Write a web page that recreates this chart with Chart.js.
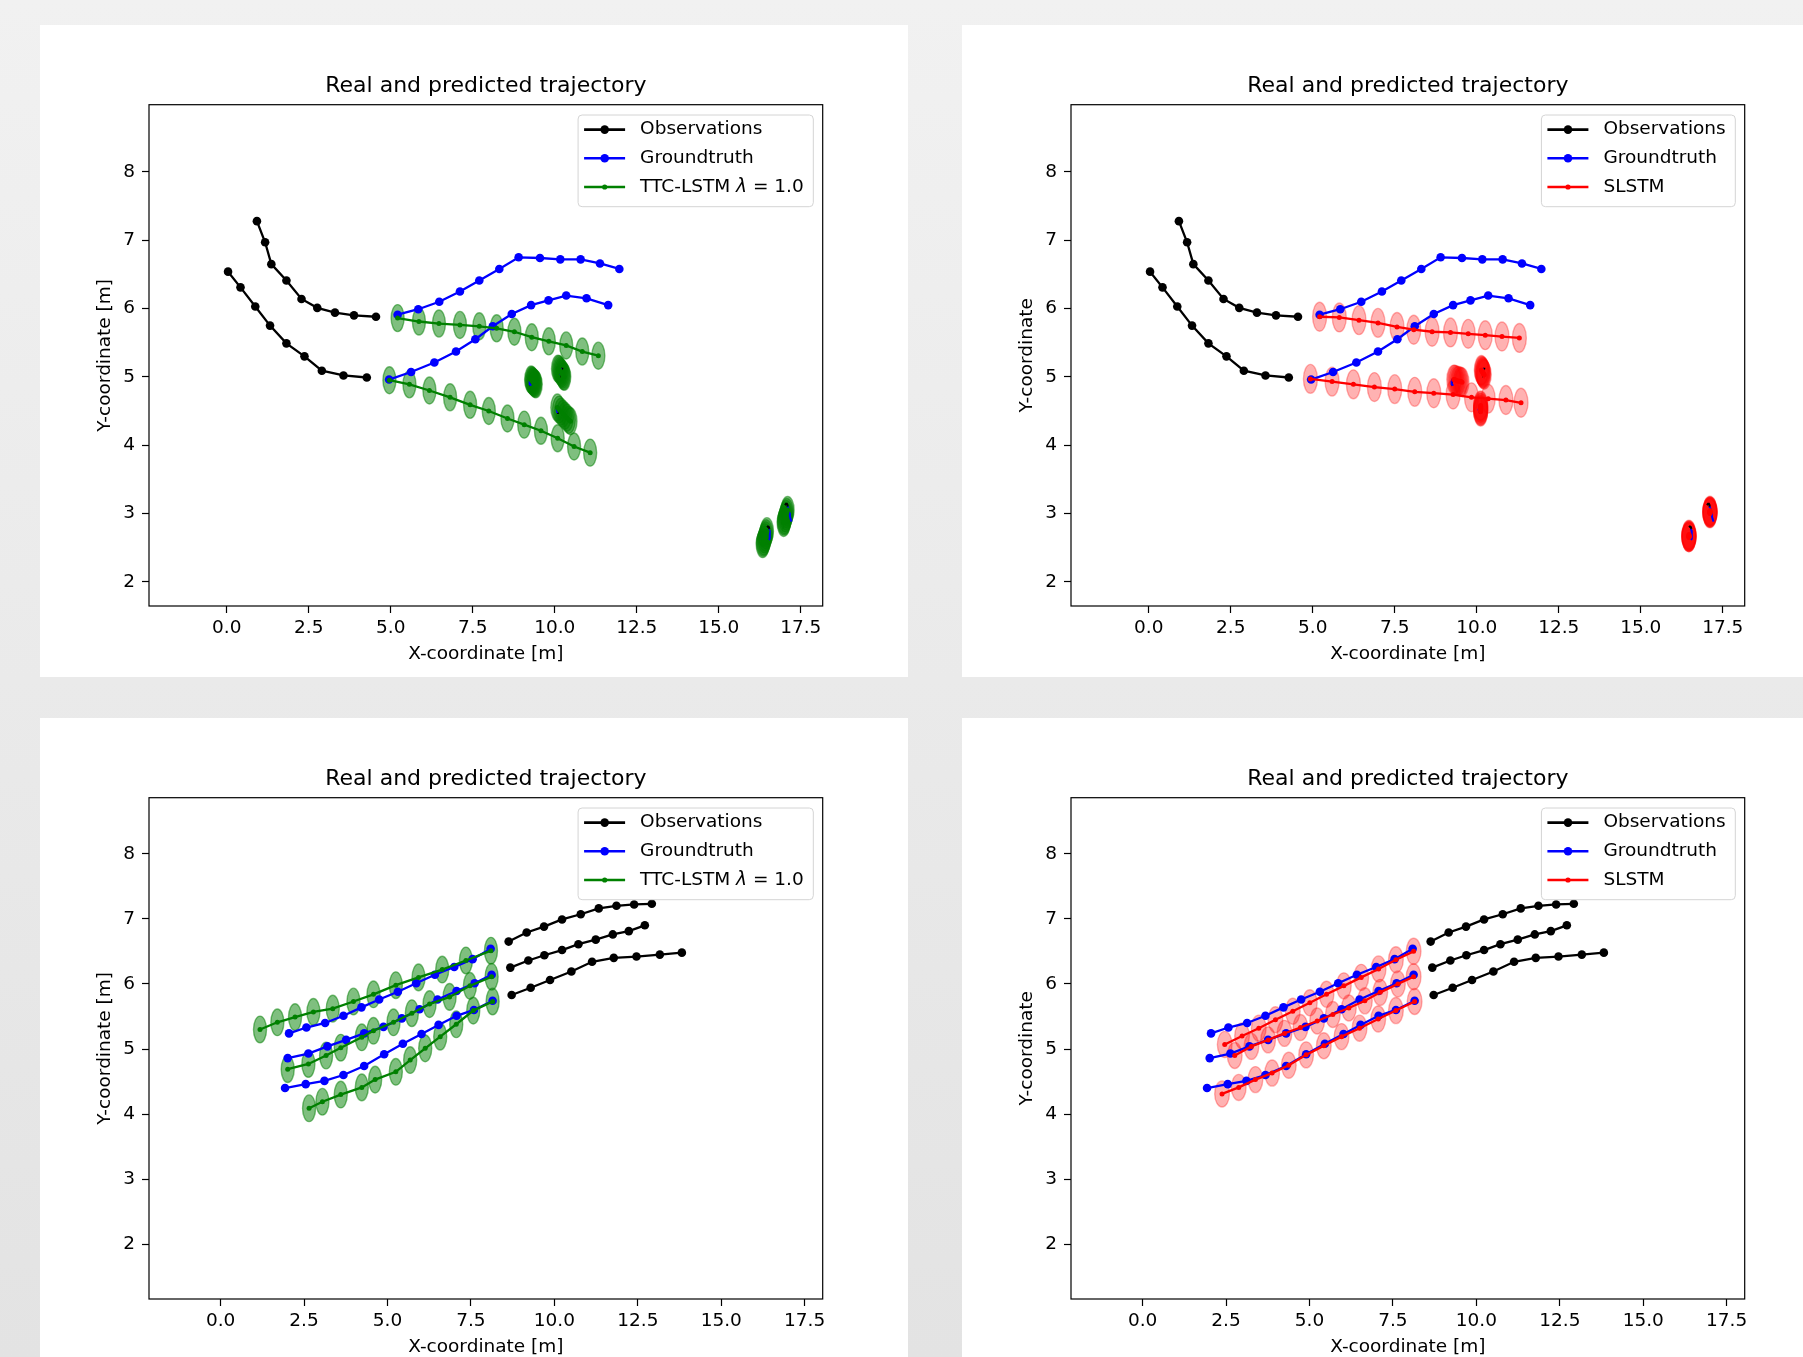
<!DOCTYPE html>
<html><head><meta charset="utf-8">
<script src="https://cdn.jsdelivr.net/npm/chart.js@4.4.1/dist/chart.umd.min.js"></script>
<style>
html,body{margin:0;padding:0;}
body{width:1803px;height:1357px;overflow:hidden;position:relative;background:linear-gradient(#f1f1f1,#e3e3e3);}
canvas{position:absolute;background:#ffffff;}
</style></head><body>
<canvas id="c1" width="868" height="652" style="left:40px;top:25px;width:868px;height:652px"></canvas>
<canvas id="c2" width="868" height="652" style="left:962px;top:25px;width:868px;height:652px"></canvas>
<canvas id="c3" width="868" height="652" style="left:40px;top:717.6px;width:868px;height:652px"></canvas>
<canvas id="c4" width="868" height="652" style="left:962px;top:717.6px;width:868px;height:652px"></canvas>
<script>
// ---------- tick labels / limits ----------
const xTicks = [0, 2.5, 5, 7.5, 10, 12.5, 15, 17.5];
const yTicks = [2, 3, 4, 5, 6, 7, 8];
const xLimA = [-2.37, 18.17], yLimA = [1.644, 8.985];
const xLimB = [-2.146, 18.04], yLimB = [1.16, 8.86];
const titleText = 'Real and predicted trajectory';
const xLabel = 'X-coordinate [m]';
const yLabelM = 'Y-coordinate [m]';
const yLabelPlain = 'Y-coordinate';
const legendTTC = ['Observations', 'Groundtruth', 'TTC-LSTM λ = 1.0'];
const legendSL = ['Observations', 'Groundtruth', 'SLSTM'];

// ---------- scene A (top row) ----------
const obsA1 = [[0.92,7.28],[1.17,6.97],[1.36,6.65],[1.82,6.41],[2.28,6.14],[2.76,6.01],[3.30,5.94],[3.88,5.90],[4.55,5.88]];
const obsA2 = [[0.04,6.54],[0.42,6.31],[0.87,6.03],[1.32,5.75],[1.82,5.49],[2.37,5.30],[2.90,5.09],[3.56,5.02],[4.27,4.99]];
const gtA1 = [[5.21,5.91],[5.84,5.99],[6.48,6.10],[7.11,6.25],[7.70,6.41],[8.31,6.58],[8.90,6.75],[9.55,6.74],[10.17,6.72],[10.79,6.72],[11.38,6.66],[11.97,6.58]];
const gtA2 = [[4.95,4.96],[5.62,5.07],[6.33,5.21],[6.99,5.37],[7.58,5.55],[8.11,5.74],[8.69,5.92],[9.28,6.05],[9.81,6.12],[10.35,6.19],[10.97,6.15],[11.63,6.05]];
const ttcA1 = [[5.21,5.86],[5.86,5.81],[6.47,5.78],[7.11,5.76],[7.70,5.74],[8.23,5.71],[8.77,5.66],[9.30,5.58],[9.82,5.52],[10.35,5.46],[10.84,5.37],[11.33,5.31]];
const ttcA2 = [[4.96,4.95],[5.57,4.89],[6.18,4.80],[6.81,4.70],[7.42,4.59],[7.99,4.50],[8.56,4.39],[9.07,4.30],[9.58,4.21],[10.09,4.10],[10.59,3.98],[11.08,3.89]];
const slA1 = [[5.21,5.88],[5.81,5.87],[6.41,5.83],[6.99,5.79],[7.57,5.73],[8.08,5.69],[8.64,5.66],[9.20,5.65],[9.74,5.63],[10.26,5.61],[10.77,5.59],[11.30,5.57]];
const slA2 = [[4.93,4.97],[5.59,4.93],[6.24,4.89],[6.88,4.85],[7.50,4.82],[8.11,4.78],[8.69,4.76],[9.28,4.74],[9.84,4.70],[10.35,4.68],[10.89,4.66],[11.35,4.62]];
// nearly stationary pedestrians
const stObs1 = [[9.31,4.97],[9.29,4.97],[9.27,4.96],[9.26,4.95],[9.25,4.94]];
const stGt1 = [[9.29,4.96],[9.26,4.96],[9.24,4.94],[9.23,4.92],[9.24,4.89],[9.27,4.88],[9.29,4.88]];
const stTtc1 = [[9.28,4.96],[9.30,4.95],[9.32,4.94],[9.34,4.93],[9.36,4.92],[9.38,4.91],[9.40,4.90],[9.42,4.89]];
const stSl1 = [[9.30,4.96],[9.33,4.96],[9.37,4.95],[9.41,4.94],[9.45,4.94],[9.49,4.93],[9.52,4.93],[9.55,4.92]];
const stObs2 = [[10.24,5.11],[10.23,5.12],[10.21,5.12],[10.20,5.11],[10.20,5.10]];
const stGt2 = [[10.22,5.11],[10.19,5.11],[10.17,5.09],[10.17,5.06],[10.19,5.04],[10.22,5.04]];
const stTtc2 = [[10.10,5.12],[10.13,5.11],[10.16,5.09],[10.19,5.07],[10.22,5.05],[10.25,5.03],[10.27,5.01],[10.29,5.00]];
const stSl2 = [[10.14,5.10],[10.15,5.09],[10.17,5.08],[10.18,5.07],[10.19,5.06],[10.20,5.05],[10.21,5.04],[10.23,5.03]];
const stObs3 = [[10.12,4.50],[10.10,4.49],[10.08,4.50],[10.07,4.52],[10.08,4.54]];
const stGt3 = [[10.12,4.56],[10.09,4.56],[10.07,4.54],[10.06,4.52],[10.07,4.49],[10.10,4.48]];
const stTtc3 = [[10.08,4.55],[10.13,4.52],[10.19,4.49],[10.25,4.46],[10.31,4.43],[10.37,4.40],[10.43,4.37],[10.48,4.35]];
const stSl3 = [[10.12,4.58],[10.12,4.57],[10.12,4.55],[10.12,4.54],[10.12,4.52],[10.12,4.51],[10.12,4.50],[10.12,4.49]];
const stObs4 = [[16.47,2.80],[16.50,2.81],[16.53,2.80],[16.54,2.78],[16.53,2.76]];
const stGt4 = [[16.52,2.77],[16.55,2.75],[16.56,2.71],[16.56,2.67],[16.55,2.63],[16.53,2.61]];
const stTtc4 = [[16.47,2.74],[16.45,2.71],[16.43,2.68],[16.41,2.65],[16.39,2.62],[16.37,2.59],[16.35,2.57],[16.34,2.55]];
const stSl4 = [[16.47,2.69],[16.47,2.68],[16.47,2.67],[16.47,2.67],[16.47,2.66],[16.47,2.66],[16.47,2.65],[16.47,2.65]];
const stObs5 = [[17.02,3.12],[17.05,3.14],[17.08,3.14],[17.10,3.12],[17.10,3.09]];
const stGt5 = [[17.10,3.10],[17.13,3.06],[17.15,3.01],[17.17,2.96],[17.19,2.92],[17.22,2.88]];
const stTtc5 = [[17.10,3.05],[17.08,3.02],[17.06,2.99],[17.04,2.96],[17.02,2.93],[17.00,2.90],[16.99,2.88],[16.98,2.86]];
const stSl5 = [[17.11,3.04],[17.11,3.03],[17.11,3.03],[17.11,3.02],[17.11,3.02],[17.11,3.01],[17.11,3.01],[17.11,3.00]];

// ---------- scene B (bottom row) ----------
const obsB1 = [[12.92,7.23],[12.39,7.22],[11.86,7.20],[11.33,7.16],[10.79,7.07],[10.23,6.99],[9.69,6.88],[9.17,6.79],[8.63,6.65]];
const obsB2 = [[12.71,6.90],[12.23,6.81],[11.75,6.76],[11.24,6.68],[10.72,6.61],[10.23,6.52],[9.70,6.44],[9.22,6.36],[8.68,6.25]];
const obsB3 = [[13.82,6.48],[13.16,6.45],[12.46,6.42],[11.78,6.40],[11.13,6.34],[10.51,6.19],[9.87,6.06],[9.29,5.94],[8.72,5.83]];
const gtB1 = [[8.09,6.54],[7.55,6.38],[7.00,6.26],[6.42,6.14],[5.86,6.01],[5.31,5.88],[4.75,5.76],[4.22,5.64],[3.68,5.51],[3.13,5.40],[2.57,5.33],[2.05,5.24]];
const gtB2 = [[8.12,6.14],[7.61,6.01],[7.07,5.89],[6.50,5.76],[5.96,5.61],[5.43,5.47],[4.88,5.34],[4.30,5.24],[3.76,5.14],[3.20,5.04],[2.63,4.93],[2.01,4.86]];
const gtB3 = [[8.15,5.74],[7.59,5.60],[7.07,5.51],[6.53,5.37],[6.02,5.23],[5.46,5.08],[4.90,4.92],[4.30,4.74],[3.68,4.60],[3.11,4.51],[2.55,4.46],[1.93,4.40]];
const ttcB1 = [[8.10,6.51],[7.35,6.36],[6.64,6.22],[5.93,6.10],[5.25,5.98],[4.58,5.84],[3.98,5.73],[3.36,5.62],[2.78,5.57],[2.23,5.49],[1.70,5.41],[1.18,5.30]];
const ttcB2 = [[8.12,6.11],[7.47,5.97],[6.86,5.80],[6.26,5.69],[5.73,5.55],[5.18,5.41],[4.58,5.28],[4.23,5.18],[3.60,5.02],[3.16,4.90],[2.63,4.77],[2.01,4.69]];
const ttcB3 = [[8.15,5.73],[7.57,5.59],[7.06,5.38],[6.58,5.19],[6.13,5.01],[5.68,4.83],[5.25,4.65],[4.63,4.53],[4.23,4.41],[3.60,4.30],[3.05,4.19],[2.65,4.09]];
const slB1 = [[8.12,6.50],[7.59,6.37],[7.07,6.23],[6.55,6.10],[6.03,5.97],[5.51,5.84],[5.01,5.71],[4.50,5.58],[3.98,5.45],[3.48,5.32],[2.98,5.20],[2.46,5.07]];
const slB2 = [[8.12,6.11],[7.65,6.00],[7.12,5.87],[6.66,5.74],[6.18,5.63],[5.70,5.53],[5.23,5.43],[4.73,5.33],[4.25,5.24],[3.76,5.14],[3.26,5.04],[2.76,4.90]];
const slB3 = [[8.15,5.73],[7.59,5.59],[7.06,5.46],[6.50,5.32],[5.96,5.19],[5.43,5.05],[4.90,4.91],[4.38,4.75],[3.88,4.63],[3.38,4.53],[2.88,4.41],[2.38,4.31]];

// uncertainty ellipse semi-axes [x, y] in metres
const ttcSigmaA = [0.198, 0.198];
const slSigmaA = [0.213, 0.212];
const ttcSigmaB = [0.195, 0.205];
const slSigmaB = [0.22, 0.20];

// ---------- helpers ----------
const FONT = '"DejaVu Sans", "Liberation Sans", sans-serif';
Chart.defaults.font.family = FONT;
Chart.defaults.color = '#000';

function pts(a) { return a.map(p => ({x: p[0], y: p[1]})); }
function track(a, color, radius, width, order) {
  return {data: pts(a), showLine: true, borderColor: color, backgroundColor: color,
    borderWidth: width, pointRadius: radius, pointHoverRadius: radius, pointBorderWidth: 0,
    tension: 0, fill: false, order: order};
}

function ellipsePlugin(groups) {
  return {id: 'ellipses', beforeDatasetsDraw(chart) {
    const {ctx, chartArea: ca, scales: {x, y}} = chart;
    ctx.save();
    ctx.beginPath(); ctx.rect(ca.left, ca.top, ca.right - ca.left, ca.bottom - ca.top); ctx.clip();
    groups.forEach(g => {
      g.points.forEach(p => {
        const cx = x.getPixelForValue(p[0]), cy = y.getPixelForValue(p[1]);
        const rx = Math.abs(x.getPixelForValue(p[0] + g.sigma[0]) - cx);
        const ry = Math.abs(y.getPixelForValue(p[1] + g.sigma[1]) - cy);
        ctx.beginPath(); ctx.ellipse(cx, cy, rx, ry, 0, 0, Math.PI * 2);
        ctx.fillStyle = g.fill; ctx.fill();
        ctx.lineWidth = 1.4; ctx.strokeStyle = g.fill; ctx.stroke();
      });
    });
    ctx.restore();
  }};
}

const framePlugin = {id: 'frame', afterDatasetsDraw(chart) {
  const {ctx, chartArea: ca} = chart;
  ctx.save(); ctx.strokeStyle = '#000'; ctx.lineWidth = 1.2;
  ctx.strokeRect(ca.left, ca.top, ca.right - ca.left, ca.bottom - ca.top);
  ctx.restore();
}};

function legendPlugin(labels, colors, radii) {
  return {id: 'mplLegend', afterDraw(chart) {
    const {ctx, chartArea: ca} = chart;
    const fs = 18.5;
    const fN = fs + 'px ' + FONT, fI = 'oblique ' + fs + 'px ' + FONT;
    ctx.save();
    function segs(t) { const parts = t.split('λ'); const out = [];
      parts.forEach((s, i) => { if (i > 0) out.push({t: 'λ', f: fI}); if (s) out.push({t: s, f: fN}); }); return out; }
    function tw(t) { return segs(t).reduce((w, s) => { ctx.font = s.f; return w + ctx.measureText(s.t).width; }, 0); }
    const maxW = Math.max(...labels.map(tw));
    const w = 62 + maxW + 9.6, h = 91.7;
    const x0 = ca.right - 9.4 - w, y0 = ca.top + 10.3;
    ctx.beginPath(); ctx.roundRect(x0, y0, w, h, 4);
    ctx.fillStyle = 'rgba(255,255,255,0.8)'; ctx.fill();
    ctx.strokeStyle = '#d4d4d4'; ctx.lineWidth = 1; ctx.stroke();
    labels.forEach((lab, i) => {
      const yy = y0 + 14.6 + i * 28.7;
      ctx.strokeStyle = colors[i]; ctx.lineWidth = 2.6;
      ctx.beginPath(); ctx.moveTo(x0 + 6, yy); ctx.lineTo(x0 + 47, yy); ctx.stroke();
      ctx.fillStyle = colors[i];
      ctx.beginPath(); ctx.arc(x0 + 26.6, yy, radii[i], 0, Math.PI * 2); ctx.fill();
      ctx.fillStyle = '#000'; ctx.textBaseline = 'middle'; ctx.textAlign = 'left';
      let xx = x0 + 62;
      segs(lab).forEach(s => { ctx.font = s.f; ctx.fillText(s.t, xx, yy); xx += ctx.measureText(s.t).width; });
    });
    ctx.restore();
  }};
}

function makeChart(id, cfg) {
  const datasets = [];
  cfg.preds.forEach(p => datasets.push(track(p, cfg.color, 2.5, 2.3, 0)));
  cfg.stPreds.forEach(p => datasets.push(track(p, cfg.color, 2.5, 2.3, 0)));
  cfg.gts.forEach(p => datasets.push(track(p, '#0000ff', 4.3, 2.3, 1)));
  cfg.stGts.forEach(p => datasets.push(track(p, '#0000ff', 0, 2.0, 1)));
  cfg.obs.forEach(p => datasets.push(track(p, '#000000', 4.3, 2.3, 2)));
  cfg.stObs.forEach(p => datasets.push(track(p, '#000000', 0, 2.0, 2)));
  const groups = cfg.preds.concat(cfg.stPreds).map(p => ({points: p, sigma: cfg.sigma, fill: cfg.fill}));
  const tickFont = {size: 18.5, family: FONT};
  new Chart(document.getElementById(id), {
    type: 'scatter',
    data: {datasets},
    plugins: [ellipsePlugin(groups), framePlugin, legendPlugin(cfg.legend, ['#000000', '#0000ff', cfg.color], [4.3, 4.3, 2.6])],
    options: {
      responsive: false, animation: false, devicePixelRatio: 1, events: [],
      layout: {padding: {left: 50, top: 40, right: 85.3, bottom: 7.6}},
      plugins: {
        legend: {display: false}, tooltip: {enabled: false},
        title: {display: true, fullSize: false, text: titleText, color: '#000', font: {size: 22, weight: 'normal', family: FONT}, padding: cfg.titlePad}
      },
      scales: {
        x: {type: 'linear', min: cfg.xLim[0], max: cfg.xLim[1],
          afterFit(s) { s.height = 63.4; },
          afterBuildTicks(s) { s.ticks = xTicks.map(v => ({value: v})); },
          ticks: {font: tickFont, color: '#000', padding: 3.6, maxRotation: 0, autoSkip: false, callback: v => Number(v).toFixed(1)},
          grid: {drawOnChartArea: false, drawTicks: true, tickLength: 7, tickColor: '#000', tickWidth: 1.2},
          border: {display: false},
          title: {display: true, text: xLabel, color: '#000', font: tickFont, padding: {top: 0, bottom: 4}}},
        y: {type: 'linear', min: cfg.yLim[0], max: cfg.yLim[1],
          afterFit(s) { s.width = 59; },
          afterBuildTicks(s) { s.ticks = yTicks.map(v => ({value: v})); },
          ticks: {font: tickFont, color: '#000', padding: 7, autoSkip: false, callback: v => String(v)},
          grid: {drawOnChartArea: false, drawTicks: true, tickLength: 7, tickColor: '#000', tickWidth: 1.2},
          border: {display: false},
          title: {display: true, text: cfg.yLabel, color: '#000', font: tickFont, padding: {top: 4, bottom: 0}}}
      }
    }
  });
}

const stObsA = [stObs1, stObs2, stObs3, stObs4, stObs5];
const stGtA = [stGt1, stGt2, stGt3, stGt4, stGt5];
const stTtcA = [stTtc1, stTtc2, stTtc3, stTtc4, stTtc5];
const stSlA = [stSl1, stSl2, stSl3, stSl4, stSl5];

makeChart('c1', {xLim: xLimA, yLim: yLimA, obs: [obsA1, obsA2], gts: [gtA1, gtA2], preds: [ttcA1, ttcA2],
  stObs: stObsA, stGts: stGtA, stPreds: stTtcA, color: '#008000', fill: 'rgba(0,128,0,0.5)', sigma: ttcSigmaA,
  legend: legendTTC, yLabel: yLabelM, titlePad: {top: 8, bottom: 5.3}});
makeChart('c2', {xLim: xLimA, yLim: yLimA, obs: [obsA1, obsA2], gts: [gtA1, gtA2], preds: [slA1, slA2],
  stObs: stObsA, stGts: stGtA, stPreds: stSlA, color: '#ff0000', fill: 'rgba(255,0,0,0.3)', sigma: slSigmaA,
  legend: legendSL, yLabel: yLabelPlain, titlePad: {top: 8, bottom: 5.3}});
makeChart('c3', {xLim: xLimB, yLim: yLimB, obs: [obsB1, obsB2, obsB3], gts: [gtB1, gtB2, gtB3], preds: [ttcB1, ttcB2, ttcB3],
  stObs: [], stGts: [], stPreds: [], color: '#008000', fill: 'rgba(0,128,0,0.5)', sigma: ttcSigmaB,
  legend: legendTTC, yLabel: yLabelM, titlePad: {top: 7.6, bottom: 5.7}});
makeChart('c4', {xLim: xLimB, yLim: yLimB, obs: [obsB1, obsB2, obsB3], gts: [gtB1, gtB2, gtB3], preds: [slB1, slB2, slB3],
  stObs: [], stGts: [], stPreds: [], color: '#ff0000', fill: 'rgba(255,0,0,0.3)', sigma: slSigmaB,
  legend: legendSL, yLabel: yLabelPlain, titlePad: {top: 7.6, bottom: 5.7}});
</script>
</body></html>
